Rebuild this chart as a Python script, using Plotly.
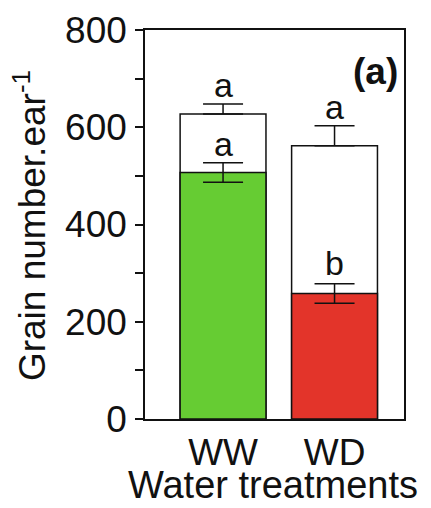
import plotly.graph_objects as go

categories = ["WW", "WD"]
total_grain = [627, 562]
total_err = [21, 41]
fertile_grain = [507, 258]
fertile_err = [20, 20]
total_letters = ["a", "a"]
fertile_letters = ["a", "b"]
bar_colors = ["#66cc33", "#e3342a"]

FONT = "Liberation Sans, Arial, sans-serif"
x = [0, 1]

fig = go.Figure()
fig.add_trace(go.Bar(
    x=x, y=total_grain, width=0.77,
    marker=dict(color="white", line=dict(color="#111111", width=1.5)),
    error_y=dict(type="data", symmetric=False, array=total_err,
                 arrayminus=[0, 0], color="#111111", thickness=1.5, width=20),
    showlegend=False, hoverinfo="skip"))
fig.add_trace(go.Bar(
    x=x, y=fertile_grain, width=0.77,
    marker=dict(color=bar_colors, line=dict(color="#111111", width=1.5)),
    error_y=dict(type="data", array=fertile_err, color="#111111",
                 thickness=1.5, width=20),
    showlegend=False, hoverinfo="skip"))

for i in range(2):
    fig.add_annotation(x=x[i], y=total_grain[i] + total_err[i], text=total_letters[i],
                       showarrow=False, yanchor="bottom", yshift=-2,
                       font=dict(family=FONT, size=34, color="#111111"))
    fig.add_annotation(x=x[i], y=fertile_grain[i] + fertile_err[i], text=fertile_letters[i],
                       showarrow=False, yanchor="bottom",
                       yshift=-2 if fertile_letters[i] == "a" else 0,
                       font=dict(family=FONT, size=34, color="#111111"))

fig.add_annotation(xref="paper", yref="paper", x=0.985, y=0.894, text="<b>(a)</b>",
                   showarrow=False, xanchor="right", yanchor="middle",
                   font=dict(family=FONT, size=37, color="#111111"))

fig.add_annotation(xref="paper", yref="paper", x=0.494, y=-0.169, text="Water treatments",
                   showarrow=False, xanchor="center", yanchor="middle",
                   font=dict(family=FONT, size=38, color="#111111"))

fig.add_annotation(xref="paper", yref="paper", x=-0.444, y=0.496,
                   text="Grain number.ear<sup>-1</sup>", textangle=-90,
                   showarrow=False, xanchor="center", yanchor="middle",
                   font=dict(family=FONT, size=37, color="#111111"))

fig.update_layout(
    width=423, height=500,
    margin=dict(l=137, r=27, t=22, b=89),
    plot_bgcolor="white", paper_bgcolor="white",
    barmode="overlay",
    font=dict(family=FONT, size=37, color="#111111"),
    xaxis=dict(range=[-0.7, 1.623], tickvals=x, ticktext=categories,
               showline=True, linecolor="#111111", linewidth=1.5, mirror=True,
               ticks="", showgrid=False, zeroline=False, automargin=False,
               tickfont=dict(size=37), ticklabelstandoff=0),
    yaxis=dict(range=[0, 800], tickvals=[0, 200, 400, 600, 800],
               showline=True, linecolor="#111111", linewidth=1.5, mirror=True,
               ticks="outside", ticklen=8, tickwidth=1.5, tickcolor="#111111",
               ticklabelstandoff=1,
               minor=dict(tickvals=[100, 300, 500, 700], ticks="outside", ticklen=8,
                          tickwidth=1.5, tickcolor="#111111", showgrid=False),
               showgrid=False, zeroline=False, automargin=False,
               tickfont=dict(size=37)),
)

fig.write_html("out.html")
